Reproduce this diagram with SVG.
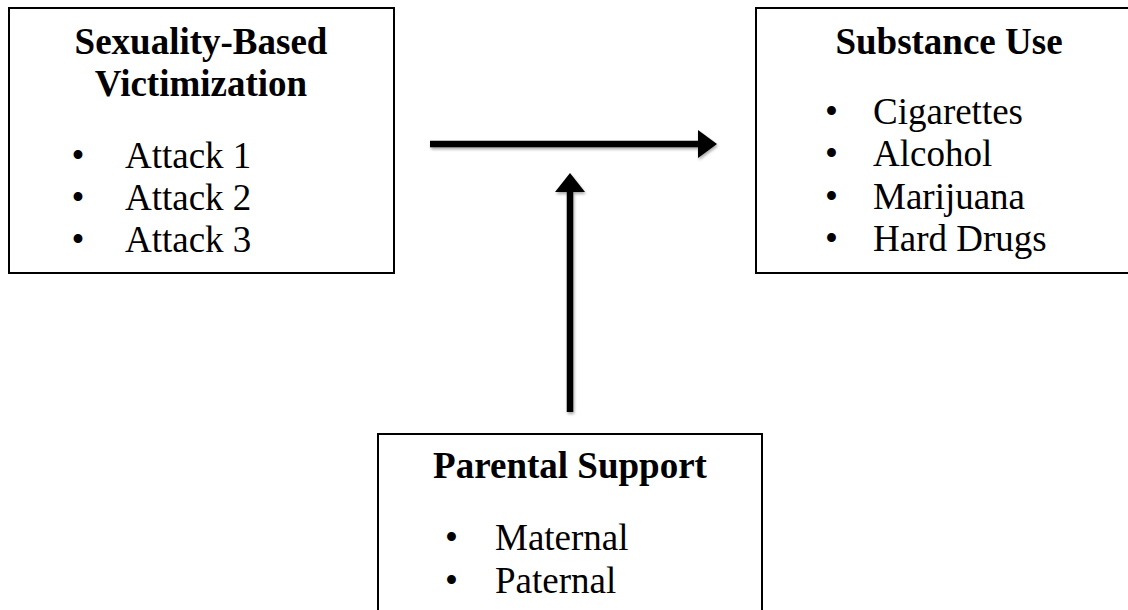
<svg xmlns="http://www.w3.org/2000/svg" width="1128" height="610" viewBox="0 0 1128 610">
<style>
.box{fill:#fff;stroke:#000;stroke-width:2}
.hd{font-family:"Liberation Serif","Times New Roman",serif;font-weight:bold;font-size:37px;fill:#000;text-anchor:middle}
.it{font-family:"Liberation Serif","Times New Roman",serif;font-size:37px;fill:#000}
.ln{stroke:#000;stroke-width:6.5;fill:none}
</style>
<defs>
<filter id="sh" x="-20%" y="-20%" width="140%" height="140%">
<feGaussianBlur in="SourceAlpha" stdDeviation="1.5"/>
<feOffset dx="1" dy="2" result="b"/>
<feComponentTransfer><feFuncA type="linear" slope="0.35"/></feComponentTransfer>
<feMerge><feMergeNode/><feMergeNode in="SourceGraphic"/></feMerge>
</filter>
</defs>
<rect width="1128" height="610" fill="#fff"/>
<g id="victimization">
<rect class="box" x="9" y="8" width="385" height="265"/>
<text class="hd" x="201" y="54">Sexuality-Based</text>
<text class="hd" x="201" y="96">Victimization</text>
<text class="it" x="71.5" y="168">•</text><text class="it" x="125" y="168">Attack 1</text>
<text class="it" x="71.5" y="210">•</text><text class="it" x="125" y="210">Attack 2</text>
<text class="it" x="71.5" y="252">•</text><text class="it" x="125" y="252">Attack 3</text>
</g>
<g id="substance">
<rect class="box" x="756" y="8" width="400" height="265"/>
<text class="hd" x="949" y="54">Substance Use</text>
<text class="it" x="825" y="124">•</text><text class="it" x="873" y="124">Cigarettes</text>
<text class="it" x="825" y="166">•</text><text class="it" x="873" y="166">Alcohol</text>
<text class="it" x="825" y="209">•</text><text class="it" x="873" y="209">Marijuana</text>
<text class="it" x="825" y="251">•</text><text class="it" x="873" y="251">Hard Drugs</text>
</g>
<g id="parental">
<rect class="box" x="378" y="434" width="384" height="200"/>
<text class="hd" x="570" y="478">Parental Support</text>
<text class="it" x="445" y="550">•</text><text class="it" x="495" y="550">Maternal</text>
<text class="it" x="445" y="593">•</text><text class="it" x="495" y="593">Paternal</text>
</g>
<g id="connectors" filter="url(#sh)">
<line class="ln" x1="430" y1="144" x2="700" y2="144"/>
<polygon points="698,130 717,144 698,158" fill="#000"/>
<line class="ln" x1="570" y1="412" x2="570" y2="190"/>
<polygon points="555,192 570,173 585,192" fill="#000"/>
</g>
</svg>
